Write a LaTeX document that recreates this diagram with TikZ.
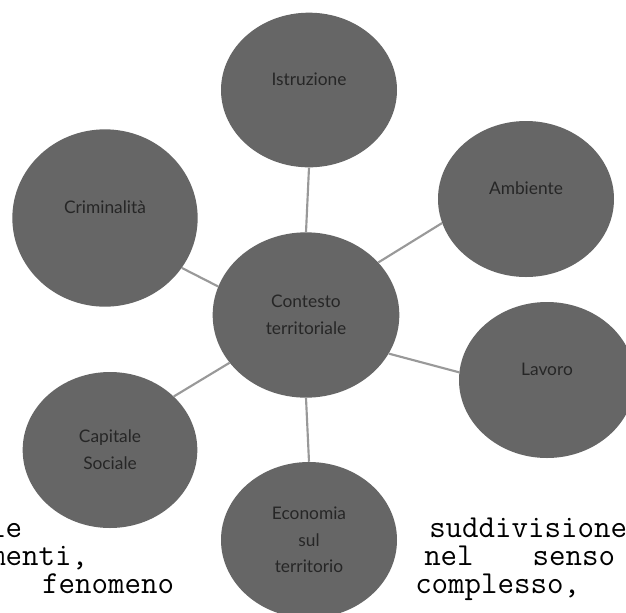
\documentclass[tikz,border=0pt]{standalone}
\usepackage{fontspec}
\setmainfont{Lato}
\usetikzlibrary{shapes.geometric,positioning}
\definecolor{disc}{HTML}{666666}
\definecolor{wire}{HTML}{999999}
\tikzset{
topic/.style 2 args={
  ellipse,
  fill=disc,
  inner sep=0pt,
  minimum width=#1,
  minimum height=#2,
  align=center,
  text=black!85,
  font=\fontsize{13}{20}\selectfont
  }
}
\tikzset{
  lift/.style={text depth=16pt},
  link/.style={draw=wire,line width=1.6pt},
  bgtext/.style={font=\ttfamily\fontsize{24}{24}\selectfont,
    text height=14pt,text depth=4pt,
    inner sep=0pt,anchor=base west}
}

\begin{document}
\begin{tikzpicture}[x=0.75pt,y=-0.75pt]
\useasboundingbox (0,0) rectangle (626,612);
\node[bgtext] (txtle) at (-11,537) {le};
\node[bgtext] (txtmenti) at (-11,565) {menti,};
\node[bgtext] (txtfen) at (42,593) {fenomeno};
\node[bgtext] (txtsudd) at (429,537) {suddivisione};
\node[bgtext] (txtsenso) at (424,565) {nel\hspace{44.25pt}senso};
\node[bgtext] (txtcompl) at (415,593) {complesso,};

\node[topic={132pt}{116pt},lift] (istr) at (309,90) {Istruzione};
\node[topic={139pt}{133pt},lift] (crim) at (105,218) {Criminalità};
\node[topic={132pt}{117pt},lift] (amb) at (526,199) {Ambiente};
\node[topic={140pt}{124pt}] (ctx) at (306,315) {Contesto\\territoriale};
\node[topic={132pt}{117pt},lift] (lav) at (547,380) {Lavoro};
\node[topic={131pt}{117pt}] (cap) at (110,450) {Capitale\\Sociale};
\node[topic={132pt}{117pt}] (eco) at (309,540) {Economia\\sul\\territorio};

\draw[link] (istr.south) -- (ctx.north);
\draw[link] (ctx.162) -- (crim.327);
\draw[link] (ctx.36) -- (amb.196);
\draw[link] (ctx.335) -- (lav.175);
\draw[link] (ctx.212) -- (cap.40);
\draw[link] (ctx.south) -- (eco.north);
\end{tikzpicture}
\end{document}
